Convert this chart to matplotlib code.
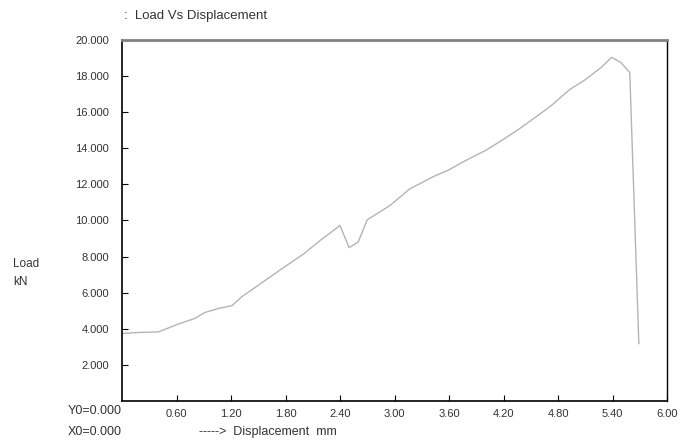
import numpy as np
import matplotlib
matplotlib.use("Agg")
import matplotlib.pyplot as plt

plt.rcParams['font.family'] = ['Liberation Sans', 'DejaVu Sans']

# displacement (mm) and load (kN)
disp = [0.0, 0.2, 0.4, 0.62, 0.8, 0.91, 1.08, 1.21, 1.32, 1.52, 1.74, 2.0, 2.18,
        2.40, 2.50, 2.60, 2.70, 2.95, 3.17, 3.28, 3.43, 3.59, 3.72, 3.89, 4.01,
        4.20, 4.38, 4.60, 4.71, 4.93, 5.10, 5.28, 5.39, 5.49, 5.59, 5.69]
load = [3.74, 3.80, 3.83, 4.26, 4.57, 4.90, 5.15, 5.28, 5.78, 6.48, 7.26, 8.15, 8.89,
        9.72, 8.50, 8.80, 10.04, 10.83, 11.76, 12.04, 12.44, 12.78, 13.15, 13.6, 13.9,
        14.5, 15.1, 15.9, 16.3, 17.26, 17.8, 18.5, 19.04, 18.76, 18.2, 3.18]

x_ticks = [0.6, 1.2, 1.8, 2.4, 3.0, 3.6, 4.2, 4.8, 5.4, 6.0]
y_ticks = [2, 4, 6, 8, 10, 12, 14, 16, 18, 20]

txt = '#333333'

fig = plt.figure(figsize=(6.81, 4.40), dpi=100)
ax = fig.add_axes([122/681, 1 - 401/440, 545/681, 361/440])

ax.plot(disp, load, color='#b4b4b4', lw=1.0)

ax.set_xlim(0, 6.0)
ax.set_ylim(0, 20.0)
ax.set_xticks(x_ticks)
ax.set_xticklabels(["%.2f" % v for v in x_ticks])
ax.set_yticks(y_ticks)
ax.set_yticklabels(["%.3f" % v for v in y_ticks])
ax.tick_params(axis='x', direction='in', length=4, pad=6, labelsize=8, labelcolor=txt)
ax.tick_params(axis='y', direction='in', length=4, pad=9.5, labelsize=8, labelcolor=txt)

for s in ['left', 'bottom']:
    ax.spines[s].set_linewidth(1.2)
ax.spines['right'].set_linewidth(1.0)
ax.spines['top'].set_color('#808080')
ax.spines['top'].set_linewidth(2.0)

fig.text(124/681, 1 - 16/440, ":  Load Vs Displacement", fontsize=9.5, va='center', ha='left', color=txt)
fig.text(13/681, 1 - 273/440, "Load\nkN", fontsize=8.5, va='center', ha='left', linespacing=1.7, color=txt)
fig.text(122/681, 1 - 411/440, "Y0=0.000", fontsize=9, va='center', ha='right', color=txt)
fig.text(122/681, 1 - 432/440, "X0=0.000", fontsize=9, va='center', ha='right', color=txt)
fig.text(199/681, 1 - 432/440, "----->  Displacement  mm", fontsize=9, va='center', ha='left', color=txt)

fig.savefig("out.png", dpi=100)
